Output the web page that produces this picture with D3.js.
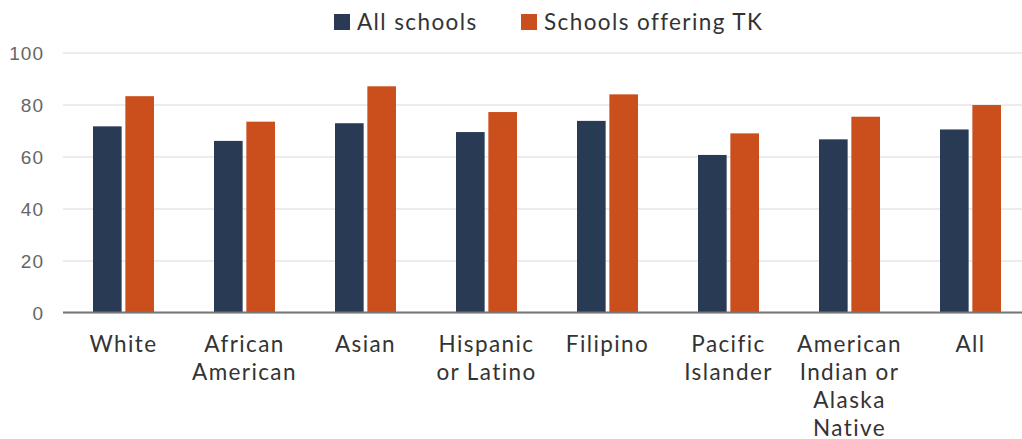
<!DOCTYPE html>
<html>
<head>
<meta charset="utf-8">
<script src="https://cdn.jsdelivr.net/npm/d3@7"></script>
<style>
  html, body { margin: 0; padding: 0; background: #fff; }
  svg { display: block; font-family: Lato, "Open Sans", sans-serif; }
</style>
</head>
<body>
<svg id="chart" width="1022" height="439"></svg>
<script>
// Category labels (one array entry per line of the wrapped label)
const categories = ["White", "African American", "Asian", "Hispanic or Latino", "Filipino", "Pacific Islander", "American Indian or Alaska Native", "All"];
const labelLines = [["White"], ["African", "American"], ["Asian"], ["Hispanic", "or Latino"], ["Filipino"], ["Pacific", "Islander"], ["American", "Indian or", "Alaska", "Native"], ["All"]];
const seriesNames = ["All schools", "Schools offering TK"];
const allSchools = [71.6, 66.0, 72.8, 69.4, 73.7, 60.6, 66.6, 70.4];
const tkSchools = [83.2, 73.4, 87.0, 77.1, 83.9, 68.9, 75.3, 79.8];
const yTicks = [0, 20, 40, 60, 80, 100];
const colors = ["#293a55", "#cb4f1c"];

const svg = d3.select("#chart");
const margin = { left: 63, top: 52.5, bottom: 312.5 };

const x0 = d3.scaleBand().domain(categories).range([margin.left, 1031])
  .paddingInner(0.496).paddingOuter(0.248);
const x1 = d3.scaleBand().domain(seriesNames).range([0, x0.bandwidth()]).paddingInner(0.115);
const y = d3.scaleLinear().domain([0, 100]).range([margin.bottom, margin.top]);

// Gridlines and y tick labels
const yAxis = d3.axisLeft(y).tickValues(yTicks).tickSize(-(1022 - margin.left)).tickPadding(20);
const gy = svg.append("g").attr("transform", `translate(${margin.left},0)`).call(yAxis);
gy.select(".domain").remove();
gy.selectAll(".tick line").attr("stroke", "#e6e6e6").attr("stroke-width", 1.5);
gy.selectAll(".tick text").attr("fill", "#666").style("font-size", "19px")
  .style("letter-spacing", "1px").attr("x", -19).attr("dy", "0.35em");

// Bars
const rows = categories.map((c, i) => ({ cat: c, vals: [allSchools[i], tkSchools[i]] }));
const groups = svg.append("g").selectAll("g").data(rows).join("g")
  .attr("transform", d => `translate(${x0(d.cat)},0)`);
groups.selectAll("rect").data(d => d.vals.map((v, j) => ({ key: seriesNames[j], v, j })))
  .join("rect")
  .attr("x", d => x1(d.key))
  .attr("width", x1.bandwidth())
  .attr("y", d => y(d.v))
  .attr("height", d => y(0) - y(d.v))
  .attr("fill", d => colors[d.j]);

// Baseline
svg.append("line").attr("x1", margin.left).attr("x2", 1022)
  .attr("y1", y(0)).attr("y2", y(0)).attr("stroke", "#777").attr("stroke-width", 2);

// Category labels
const xl = svg.append("g");
rows.forEach((d, i) => {
  const cx = x0(d.cat) + x0.bandwidth() / 2;
  const t = xl.append("text").attr("text-anchor", "middle").attr("fill", "#333")
    .style("font-size", "22.5px").style("letter-spacing", "1.4px")
    .attr("x", cx).attr("y", 351.5);
  labelLines[i].forEach((ln, k) => {
    t.append("tspan").attr("x", cx).attr("dy", k === 0 ? 0 : 28.3).text(ln);
  });
});

// Legend
const legendX = [334, 521];
const lg = svg.append("g");
seriesNames.forEach((s, j) => {
  lg.append("rect").attr("x", legendX[j]).attr("y", 14).attr("width", 16).attr("height", 16).attr("fill", colors[j]);
  lg.append("text").attr("x", legendX[j] + 23).attr("y", 30).attr("fill", "#333")
    .style("font-size", "22.5px").style("letter-spacing", "1.4px").text(s);
});
</script>
</body>
</html>
